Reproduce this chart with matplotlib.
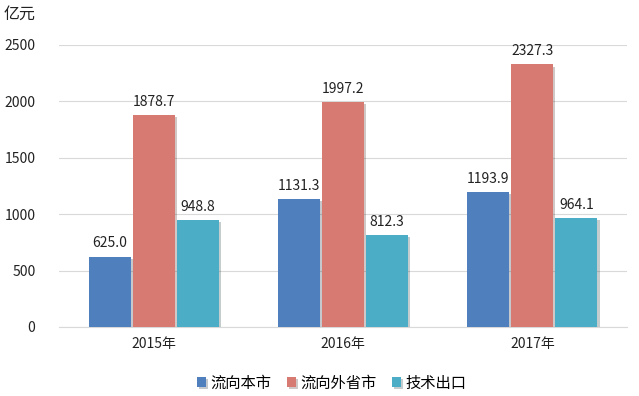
import matplotlib
matplotlib.use("Agg")
import matplotlib.pyplot as plt
import matplotlib.patheffects as pe
import numpy as np

plt.rcParams["font.family"] = ["Noto Sans CJK SC", "DejaVu Sans"]

years = ["2015年", "2016年", "2017年"]
series_names = ["流向本市", "流向外省市", "技术出口"]
local = [625.0, 1131.3, 1193.9]
other_prov = [1878.7, 1997.2, 2327.3]
export = [948.8, 812.3, 964.1]
colors = ["#4F7FBC", "#D77B72", "#4BADC6"]

fig = plt.figure(figsize=(6.39, 3.96), dpi=100)
ax = fig.add_axes([59 / 639, 69 / 396, 568 / 639, 282 / 396])

x = np.arange(len(years))
w = 0.222
step = 0.233
shadow = [pe.SimplePatchShadow(offset=(1.5, -1.5), alpha=0.25), pe.Normal()]
for i, (name, vals, c) in enumerate(zip(series_names, [local, other_prov, export], colors)):
    pos = x + (i - 1) * step
    bars = ax.bar(pos, vals, w, color=c, label=name, zorder=3)
    for b in bars:
        b.set_path_effects(shadow)
    for p, v in zip(pos, vals):
        ax.text(p, v + 55, f"{v:.1f}", ha="center", va="bottom", fontsize=10, color="#222222")

ax.set_xlim(-0.5, 2.5)
ax.set_ylim(0, 2500)
ax.set_yticks(range(0, 2501, 500))
ax.set_xticks(x)
ax.set_xticklabels(years)
ax.yaxis.grid(True, color="#D9D9D9", linewidth=0.8, zorder=0)
for s in ["top", "right", "left"]:
    ax.spines[s].set_visible(False)
ax.spines["bottom"].set_color("#D9D9D9")
ax.tick_params(axis="both", length=0, labelsize=10, colors="#222222")
ax.tick_params(axis="y", pad=17)
ax.tick_params(axis="x", pad=7)

fig.text(4 / 639, 1 - 14 / 396, "亿元", fontsize=11.5, va="center", ha="left", color="#222222")

ax.legend(loc="upper center", bbox_to_anchor=(0.48, -0.12), ncol=3, frameon=False,
          fontsize=11, handlelength=0.6, handleheight=0.6, handletextpad=0.3, columnspacing=1.0)

fig.savefig("out.png", dpi=100)
